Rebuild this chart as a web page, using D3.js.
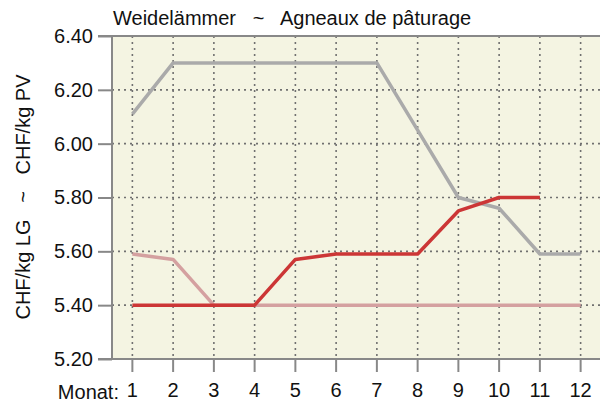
<!DOCTYPE html>
<html>
<head>
<meta charset="utf-8">
<script src="https://cdn.jsdelivr.net/npm/d3@7"></script>
<style>
  html, body { margin: 0; padding: 0; background: #ffffff; }
  svg { display: block; font-family: "Liberation Sans", Arial, sans-serif; }
</style>
</head>
<body>
<svg id="chart" width="600" height="405"></svg>
<script>
// Monthly prices for pasture lambs (CHF/kg)
const months = [1, 2, 3, 4, 5, 6, 7, 8, 9, 10, 11, 12];
const priceLiveGray = [6.11, 6.30, 6.30, 6.30, 6.30, 6.30, 6.30, 6.05, 5.80, 5.76, 5.59, 5.59];
const pricePink = [5.59, 5.57, 5.40, 5.40, 5.40, 5.40, 5.40, 5.40, 5.40, 5.40, 5.40, 5.40];
const priceRed = [5.40, 5.40, 5.40, 5.40, 5.57, 5.59, 5.59, 5.59, 5.75, 5.80, 5.80];
const yTicks = [5.20, 5.40, 5.60, 5.80, 6.00, 6.20, 6.40];

const svg = d3.select("#chart");
const plotL = 112, plotR = 601, plotT = 36, plotB = 359;
const fontSize = "20px";

const x = d3.scaleBand().domain(months).range([plotL, plotR]);
const xc = m => x(m) + x.bandwidth() / 2;
const y = d3.scaleLinear().domain([5.20, 6.40]).range([plotB, plotT]);

// plot background
svg.append("rect")
  .attr("x", plotL).attr("y", plotT)
  .attr("width", plotR - plotL).attr("height", plotB - plotT)
  .attr("fill", "#f4f4e2");

// dotted grid
const grid = svg.append("g")
  .attr("stroke", "#707070")
  .attr("stroke-width", 1.6)
  .attr("stroke-dasharray", "2,4");
grid.selectAll("line.v").data(months).join("line").attr("class", "v")
  .attr("x1", d => xc(d)).attr("x2", d => xc(d))
  .attr("y1", plotT).attr("y2", plotB);
grid.selectAll("line.h").data(yTicks.slice(1, -1)).join("line").attr("class", "h")
  .attr("x1", plotL).attr("x2", plotR)
  .attr("y1", d => y(d)).attr("y2", d => y(d));

// series
const line = d3.line().x((d, i) => xc(months[i])).y(d => y(d));
const series = [
  { values: priceLiveGray, color: "#aaaaaa", width: 3.5 },
  { values: pricePink, color: "#d4a0a0", width: 3.5 },
  { values: priceRed, color: "#cc3636", width: 3.5 }
];
svg.append("g").selectAll("path").data(series).join("path")
  .attr("d", d => line(d.values))
  .attr("fill", "none")
  .attr("stroke", d => d.color)
  .attr("stroke-width", d => d.width)
  .attr("stroke-linejoin", "round");

// axes frame
const frame = svg.append("g").attr("stroke", "#888").attr("stroke-width", 2);
frame.append("line").attr("x1", plotL).attr("x2", plotL).attr("y1", plotT - 1).attr("y2", plotB + 1);
frame.append("line").attr("x1", plotL - 14).attr("x2", plotR).attr("y1", plotT).attr("y2", plotT);

// y axis
const yAxis = d3.axisLeft(y).tickValues(yTicks).tickFormat(d3.format(".2f"))
  .tickSize(14).tickPadding(5);
const gy = svg.append("g").attr("transform", `translate(${plotL},0)`).call(yAxis);
gy.select(".domain").remove();
gy.selectAll(".tick line").attr("stroke", "#888").attr("stroke-width", 2);
gy.selectAll(".tick text").attr("fill", "#111").style("font-size", fontSize)
  .style("font-family", "'Liberation Sans', Arial, sans-serif");

// x axis
const xAxis = d3.axisBottom(x).tickSize(13).tickPadding(11);
const gx = svg.append("g").attr("transform", `translate(0,${plotB})`).call(xAxis);
gx.select(".domain").remove();
gx.selectAll(".tick line").attr("stroke", "#888").attr("stroke-width", 2);
gx.selectAll(".tick text").attr("fill", "#111").style("font-size", fontSize)
  .style("font-family", "'Liberation Sans', Arial, sans-serif");
svg.append("line").attr("x1", plotL - 14).attr("x2", plotR)
  .attr("y1", plotB).attr("y2", plotB)
  .attr("stroke", "#888").attr("stroke-width", 2);

svg.append("text").attr("x", 119).attr("y", 399)
  .attr("text-anchor", "end").attr("fill", "#111")
  .style("font-size", fontSize).text("Monat:");

// titles
svg.append("text").attr("x", 113).attr("y", 25)
  .attr("fill", "#111").style("font-size", fontSize)
  .attr("xml:space", "preserve")
  .text("Weidelämmer   ~   Agneaux de pâturage");

svg.append("text")
  .attr("transform", "translate(30,197) rotate(-90)")
  .attr("text-anchor", "middle").attr("fill", "#111")
  .style("font-size", fontSize)
  .attr("xml:space", "preserve")
  .text("CHF/kg LG   ~   CHF/kg PV");
</script>
</body>
</html>
